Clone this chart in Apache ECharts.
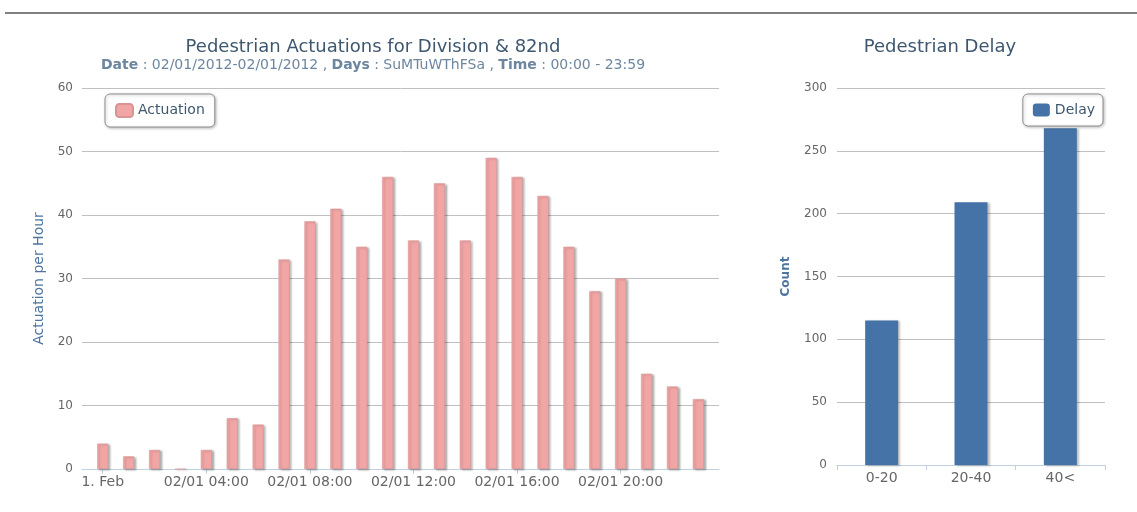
<!DOCTYPE html>
<html>
<head>
<meta charset="utf-8">
<script src="https://cdn.jsdelivr.net/npm/echarts@6/dist/echarts.min.js"></script>
<style>
  html, body { margin: 0; padding: 0; background: #fff; }
  #chart { width: 1137px; height: 512px; }
</style>
</head>
<body>
<div id="chart"></div>
<script>
// hour of day on 02/01/2012
const hours = [0, 1, 2, 3, 4, 5, 6, 7, 8, 9, 10, 11, 12, 13, 14, 15, 16, 17, 18, 19, 20, 21, 22, 23];
const actuations = [4, 2, 3, 0, 3, 8, 7, 33, 39, 41, 35, 46, 36, 45, 36, 49, 46, 43, 35, 28, 30, 15, 13, 11];
const hourTicks = [0, 4, 8, 12, 16, 20];

const delayCategories = ['0-20', '20-40', '40<'];
const delayCounts = [115, 209, 268];

const labelFont = 'DejaVu Sans';

function hourLabel (h) {
  if (h === 0) return '1. Feb';
  return '02/01 ' + String(h).padStart(2, '0') + ':00';
}

const chart = echarts.init(document.getElementById('chart'));

const legendBox = {
  top: 94,
  itemWidth: 17,
  itemHeight: 13,
  itemGap: 6,
  icon: 'roundRect',
  backgroundColor: '#fff',
  borderColor: '#909090',
  borderWidth: 1,
  borderRadius: 5,
  shadowColor: 'rgba(0,0,0,0.25)',
  shadowBlur: 3,
  shadowOffsetX: 1,
  shadowOffsetY: 1,
  textStyle: { color: '#3E576F', fontSize: 14, fontFamily: labelFont },
};

const option = {
  backgroundColor: '#fff',
  animation: false,
  textStyle: { fontFamily: labelFont },
  graphic: [
    {
      type: 'line',
      shape: { x1: 5, y1: 13, x2: 1137, y2: 13 },
      style: { stroke: '#555', lineWidth: 1.5 },
    },
  ],
  title: [
    {
      text: 'Pedestrian Actuations for Division & 82nd',
      left: 368,
      textAlign: 'center',
      top: 33,
      textStyle: { color: '#3E576F', fontSize: 18, fontWeight: 'normal', fontFamily: labelFont },
      subtext: '{b|Date} : 02/01/2012-02/01/2012 , {b|Days} : SuMTuWThFSa , {b|Time} : 00:00 - 23:59',
      itemGap: 2,
      subtextStyle: {
        color: '#6D869F',
        fontSize: 14,
        fontFamily: labelFont,
        rich: {
          b: { fontWeight: 'bold', color: '#6D869F', fontSize: 14, fontFamily: labelFont },
        },
      },
    },
    {
      text: 'Pedestrian Delay',
      left: 935,
      textAlign: 'center',
      top: 33,
      textStyle: { color: '#3E576F', fontSize: 18, fontWeight: 'normal', fontFamily: labelFont },
    },
  ],
  legend: [
    Object.assign({}, legendBox, {
      data: ['Actuation'],
      left: 105,
      padding: [9, 10, 9, 10],
    }),
    Object.assign({}, legendBox, {
      data: ['Delay'],
      right: 34,
      padding: [9, 8, 9, 10],
      z: 10,
    }),
  ],
  grid: [
    { left: 82, right: 418, top: 88, bottom: 43 },
    { left: 837, right: 32, top: 88, bottom: 47 },
  ],
  xAxis: [
    {
      type: 'value',
      gridIndex: 0,
      min: -0.8,
      max: 23.8,
      splitLine: { show: false },
      axisLine: { show: true, onZero: false, lineStyle: { color: '#C0D0E0', width: 1 } },
      axisTick: { show: true, length: 5, customValues: hourTicks, lineStyle: { color: '#C0D0E0' } },
      axisLabel: {
        customValues: hourTicks,
        formatter: hourLabel,
        color: '#666',
        fontSize: 14,
        margin: 6,
        fontFamily: labelFont,
      },
    },
    {
      type: 'category',
      gridIndex: 1,
      data: delayCategories,
      axisLine: { lineStyle: { color: '#C0D0E0' } },
      axisTick: { show: true, length: 5, lineStyle: { color: '#C0D0E0' } },
      axisLabel: { color: '#666', fontSize: 14, margin: 6, fontFamily: labelFont },
    },
  ],
  yAxis: [
    {
      type: 'value',
      gridIndex: 0,
      min: 0,
      max: 60,
      interval: 10,
      name: 'Actuation per Hour',
      nameLocation: 'middle',
      nameGap: 35,
      nameTextStyle: { color: '#4d759e', fontSize: 14, fontFamily: labelFont },
      axisLine: { show: false },
      axisTick: { show: false },
      axisLabel: { color: '#666', fontSize: 12, margin: 9, fontFamily: labelFont },
      splitLine: { lineStyle: { color: '#C0C0C0', width: 1 } },
    },
    {
      type: 'value',
      gridIndex: 1,
      min: 0,
      max: 300,
      interval: 50,
      name: 'Count',
      nameLocation: 'middle',
      nameGap: 45,
      nameTextStyle: { color: '#4d759e', fontSize: 12, fontWeight: 'bold', fontFamily: labelFont },
      axisLine: { show: false },
      axisTick: { show: false },
      axisLabel: { color: '#666', fontSize: 12, margin: 10, fontFamily: labelFont },
      splitLine: { lineStyle: { color: '#C0C0C0', width: 1 } },
    },
  ],
  series: [
    {
      name: 'Actuation',
      type: 'bar',
      xAxisIndex: 0,
      yAxisIndex: 0,
      barWidth: 11,
      data: hours.map((h, i) => [h, actuations[i]]),
      itemStyle: {
        color: '#F2A5A5',
        borderColor: '#D89494',
        borderWidth: 0.5,
        shadowColor: 'rgba(0,0,0,0.3)',
        shadowBlur: 2,
        shadowOffsetX: 2,
        shadowOffsetY: 1,
      },
    },
    {
      name: 'Delay',
      type: 'bar',
      xAxisIndex: 1,
      yAxisIndex: 1,
      barWidth: 33,
      data: delayCounts,
      itemStyle: {
        color: '#4572A7',
        shadowColor: 'rgba(0,0,0,0.25)',
        shadowBlur: 2,
        shadowOffsetX: 2,
        shadowOffsetY: 1,
      },
    },
  ],
};

chart.setOption(option);
</script>
</body>
</html>
